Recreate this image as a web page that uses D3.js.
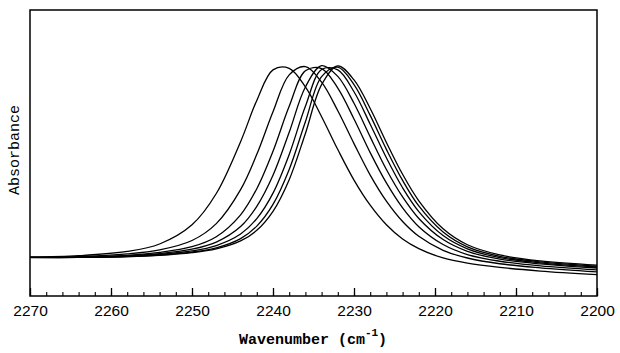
<!DOCTYPE html>
<html>
<head>
<meta charset="utf-8">
<script src="https://cdn.jsdelivr.net/npm/d3@7"></script>
<style>
  html, body { margin: 0; padding: 0; background: #ffffff; }
  svg { display: block; }
</style>
</head>
<body>
<svg id="chart" width="620" height="353"></svg>
<script>
// ---- data ----
const wavenumbers = [2270, 2264, 2258, 2254, 2250, 2247, 2244, 2242, 2240, 2238, 2236, 2234, 2232, 2230, 2228, 2226, 2224, 2222, 2219, 2216, 2212, 2207, 2200];
const spectrum1 = [0.002, 0.010, 0.032, 0.071, 0.171, 0.334, 0.604, 0.819, 0.978, 0.986, 0.889, 0.734, 0.563, 0.404, 0.273, 0.171, 0.097, 0.047, -0.002, -0.029, -0.051, -0.070, -0.089];
const spectrum2 = [0.001, 0.005, 0.019, 0.040, 0.089, 0.177, 0.354, 0.538, 0.760, 0.952, 0.995, 0.914, 0.765, 0.594, 0.430, 0.294, 0.188, 0.111, 0.038, -0.002, -0.032, -0.053, -0.074];
const spectrum3 = [0.001, 0.003, 0.012, 0.027, 0.057, 0.109, 0.223, 0.359, 0.554, 0.788, 0.973, 0.985, 0.883, 0.722, 0.547, 0.389, 0.259, 0.161, 0.068, 0.016, -0.019, -0.043, -0.064];
const spectrum4 = [0.001, 0.002, 0.010, 0.021, 0.044, 0.081, 0.162, 0.267, 0.429, 0.653, 0.889, 1.000, 0.944, 0.804, 0.629, 0.459, 0.316, 0.204, 0.094, 0.033, -0.008, -0.033, -0.054];
const spectrum5 = [0.001, 0.002, 0.007, 0.017, 0.035, 0.063, 0.123, 0.203, 0.336, 0.537, 0.788, 0.980, 0.978, 0.864, 0.695, 0.520, 0.364, 0.240, 0.115, 0.046, 0.000, -0.027, -0.049];
const spectrum6 = [0.000, 0.001, 0.005, 0.013, 0.029, 0.051, 0.099, 0.164, 0.277, 0.459, 0.708, 0.943, 0.992, 0.901, 0.741, 0.564, 0.402, 0.269, 0.133, 0.056, 0.007, -0.022, -0.044];
const spectrum7 = [0.001, 0.001, 0.005, 0.012, 0.026, 0.046, 0.087, 0.142, 0.241, 0.406, 0.647, 0.901, 0.999, 0.926, 0.777, 0.600, 0.434, 0.296, 0.150, 0.067, 0.014, -0.017, -0.039];
const spectra = [spectrum1, spectrum2, spectrum3, spectrum4, spectrum5, spectrum6, spectrum7];
const majorTicks = [2270, 2260, 2250, 2240, 2230, 2220, 2210, 2200];
const minorTicks = d3.range(2270, 2199, -2);
const xTitle = "Wavenumber (cm";
const xTitleSup = "-1";
const yTitle = "Absorbance";

// ---- layout ----
const svg = d3.select("#chart");
const mLeft = 30, mRight = 597, mTop = 10, mBottom = 296;

const x = d3.scaleLinear().domain([2270, 2200]).range([mLeft, mRight]);
const y = d3.scaleLinear().domain([-0.2, 1.29]).range([mBottom, mTop]);

svg.append("rect").attr("width", 620).attr("height", 353).attr("fill", "#fff");

// minor ticks
const minorAxis = d3.axisBottom(x).tickValues(minorTicks).tickSizeInner(-4).tickSizeOuter(0).tickFormat("");
svg.append("g").attr("transform", `translate(0,${mBottom})`).call(minorAxis)
  .call(g => g.select(".domain").remove())
  .call(g => g.selectAll("line").attr("stroke", "#000").attr("stroke-width", 1.1));

// major ticks with labels
const majorAxis = d3.axisBottom(x).tickValues(majorTicks).tickSizeInner(-8).tickSizeOuter(0).tickPadding(9).tickFormat(d3.format("d"));
svg.append("g").attr("transform", `translate(0,${mBottom})`).call(majorAxis)
  .call(g => g.select(".domain").remove())
  .call(g => g.selectAll("line").attr("stroke", "#000").attr("stroke-width", 1.3))
  .call(g => g.selectAll("text")
    .attr("font-family", "'Liberation Sans', Arial, sans-serif")
    .attr("font-size", 15.5)
    .attr("fill", "#000"));

// frame
svg.append("rect")
  .attr("x", mLeft).attr("y", mTop)
  .attr("width", mRight - mLeft).attr("height", mBottom - mTop)
  .attr("fill", "none").attr("stroke", "#000").attr("stroke-width", 1.5);

// spectra
const line = d3.line()
  .x((d, i) => x(wavenumbers[i]))
  .y(d => y(d))
  .curve(d3.curveCatmullRom.alpha(0.5));

svg.append("g").selectAll("path").data(spectra).join("path")
  .attr("d", line)
  .attr("fill", "none")
  .attr("stroke", "#000")
  .attr("stroke-width", 1.3);

// axis titles
const xt = svg.append("text")
  .attr("x", 313).attr("y", 344)
  .attr("text-anchor", "middle")
  .attr("font-family", "'Liberation Mono', 'DejaVu Sans Mono', monospace")
  .attr("font-weight", "bold")
  .attr("font-size", 15)
  .attr("fill", "#000");
xt.append("tspan").text(xTitle);
xt.append("tspan").attr("dy", -8).attr("font-size", 11).text(xTitleSup);
xt.append("tspan").attr("dy", 8).text(")");

svg.append("text")
  .attr("transform", "translate(19,150) rotate(-90)")
  .attr("text-anchor", "middle")
  .attr("font-family", "'Liberation Mono', 'DejaVu Sans Mono', monospace")
  .attr("font-size", 15)
  .attr("fill", "#000")
  .text(yTitle);
</script>
</body>
</html>
